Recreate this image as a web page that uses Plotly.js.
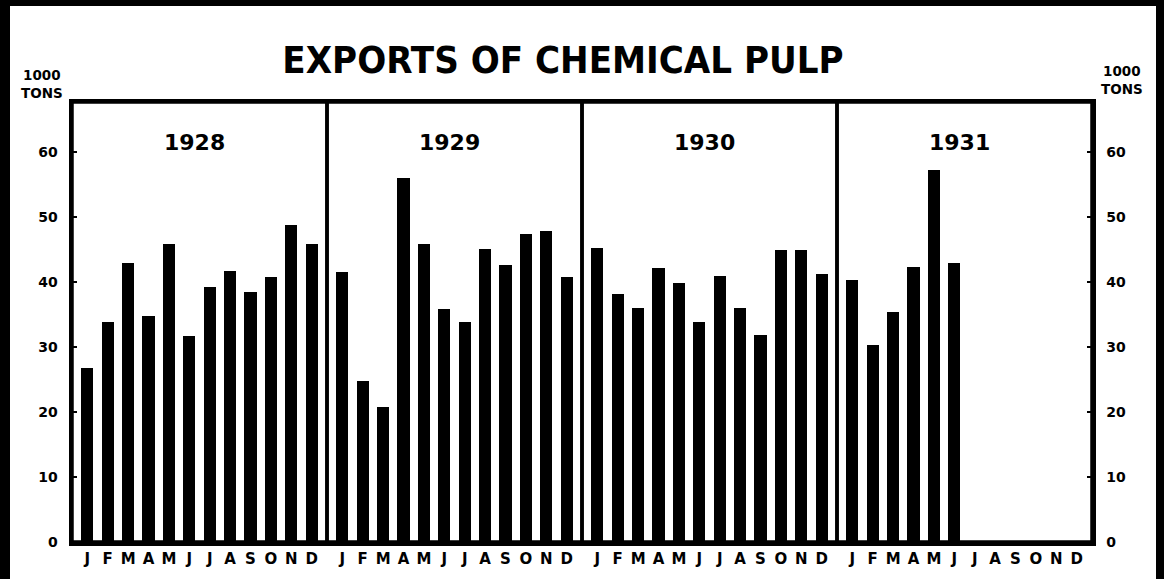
<!DOCTYPE html>
<html>
<head>
<meta charset="utf-8">
<script src="https://cdn.plot.ly/plotly-3.0.1.min.js"></script>
<style>
html,body{margin:0;padding:0;background:#fff;}
#chart{width:1165px;height:579px;}
</style>
</head>
<body>
<div id="chart"></div>
<script>
// ---- data (1000 tons) ----
var years = ["1928", "1929", "1930", "1931"];
var months = ["J","F","M","A","M","J","J","A","S","O","N","D"];
var exports1928 = [26.8, 33.9, 42.9, 34.8, 45.8, 31.7, 39.3, 41.7, 38.5, 40.8, 48.7, 45.8];
var exports1929 = [41.6, 24.7, 20.7, 56.0, 45.8, 35.8, 33.8, 45.1, 42.6, 47.4, 47.8, 40.8];
var exports1930 = [45.3, 38.1, 36.0, 42.1, 39.8, 33.8, 40.9, 36.0, 31.8, 45.0, 44.9, 41.2];
var exports1931 = [40.3, 30.3, 35.4, 42.3, 57.3, 42.9];
var yTicks = [0, 10, 20, 30, 40, 50, 60];
var unitLabel = "1000<br>TONS";
var chartTitle = "EXPORTS OF CHEMICAL PULP";

var series = [exports1928, exports1929, exports1930, exports1931];

// ---- layout geometry (pixels) ----
var W = 1165, H = 579;
var PL = 72, PR = 1092, PT = 102, PB = 542;
var PANEL = 12.5;          // slots per year panel
var PAD = 0.75;            // slot padding inside panel
var YMAX = 67.7;

function px2x(px){ return (px - PL) / (PR - PL); }
function py2y(py){ return (PB - py) / (PB - PT); }

var xs = [], ys = [], tickvals = [], ticktext = [];
for (var yi = 0; yi < years.length; yi++) {
  for (var m = 0; m < months.length; m++) {
    var xv = yi * PANEL + m;
    tickvals.push(xv);
    ticktext.push(months[m]);
    if (m < series[yi].length) {
      xs.push(xv);
      ys.push(series[yi][m]);
    }
  }
}

var fontBold = {family: "DejaVu Sans, Verdana, sans-serif", weight: "bold", color: "#000"};
function f(size){ return Object.assign({}, fontBold, {size: size}); }

var traces = [
  {type: "bar", x: xs, y: ys, width: 0.6, marker: {color: "#000", line: {width: 0}},
   hoverinfo: "skip", showlegend: false},
  {type: "scatter", x: [xs[0]], y: [0], yaxis: "y2", mode: "markers",
   marker: {opacity: 0}, hoverinfo: "skip", showlegend: false}
];

var shapes = [];
// year panel boxes
for (var p = 0; p < years.length; p++) {
  shapes.push({type: "rect", xref: "x", yref: "paper",
    x0: p * PANEL - PAD, x1: p * PANEL + 11 + PAD, y0: 0, y1: 1,
    line: {color: "#000", width: 3.5}, layer: "above"});
}
// outer frame
shapes.push({type: "line", xref: "paper", yref: "paper",
  x0: px2x(5), x1: px2x(5), y0: py2y(0), y1: py2y(H), line: {color: "#000", width: 10}});
shapes.push({type: "line", xref: "paper", yref: "paper",
  x0: px2x(0), x1: px2x(1163), y0: py2y(3), y1: py2y(3), line: {color: "#000", width: 6}});
shapes.push({type: "line", xref: "paper", yref: "paper",
  x0: px2x(1160), x1: px2x(1160), y0: py2y(0), y1: py2y(H), line: {color: "#000", width: 8}});

var annotations = [];
for (var q = 0; q < years.length; q++) {
  annotations.push({xref: "x", yref: "paper", x: q * PANEL + 5.25, y: py2y(142),
    text: years[q], showarrow: false, font: f(22), xanchor: "center", yanchor: "middle"});
}
annotations.push({xref: "paper", yref: "paper", x: px2x(42), y: py2y(84), text: unitLabel,
  showarrow: false, font: f(13.5), xanchor: "center", yanchor: "middle", align: "center"});
annotations.push({xref: "paper", yref: "paper", x: px2x(1122), y: py2y(80), text: unitLabel,
  showarrow: false, font: f(13.5), xanchor: "center", yanchor: "middle", align: "center"});

var yaxisCommon = {
  range: [0, YMAX], tickvals: yTicks, ticks: "inside", ticklen: 5, tickwidth: 2,
  tickcolor: "#000", showgrid: false, zeroline: false, showline: true,
  linecolor: "#000", linewidth: 3.5, tickfont: f(14), fixedrange: true
};

var layout = {
  width: W, height: H,
  margin: {l: PL, r: W - PR, t: PT, b: H - PB, pad: 0},
  paper_bgcolor: "#fff", plot_bgcolor: "#fff",
  title: {text: chartTitle, x: px2x(563) * (PR - PL) / W + PL / W, xanchor: "center",
    y: 1 - 60 / H, yanchor: "middle",
    font: {family: "Liberation Sans Narrow, DejaVu Sans Condensed, Arial Narrow, sans-serif",
      weight: "bold", size: 38, color: "#000"}},
  xaxis: {range: [-PAD, (years.length - 1) * PANEL + 11 + PAD], tickvals: tickvals,
    ticktext: ticktext, ticks: "", showgrid: false, zeroline: false, showline: true,
    linecolor: "#000", linewidth: 3.5, tickfont: f(15), fixedrange: true, mirror: true},
  yaxis: Object.assign({}, yaxisCommon, {side: "left", ticklabelstandoff: 8}),
  yaxis2: Object.assign({}, yaxisCommon, {side: "right", overlaying: "y", ticklabelstandoff: 8}),
  shapes: shapes,
  annotations: annotations,
  bargap: 0,
  showlegend: false
};

Plotly.newPlot("chart", traces, layout, {displayModeBar: false, staticPlot: true});
</script>
</body>
</html>
